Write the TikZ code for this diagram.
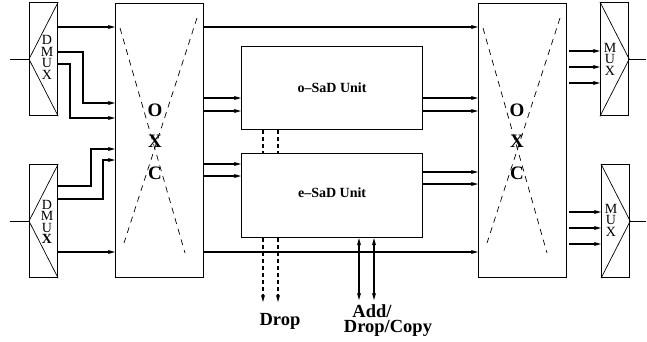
\documentclass[tikz,border=0pt]{standalone}
\usepackage{fontspec}
\setmainfont{Liberation Serif}
\usetikzlibrary{arrows.meta}

\begin{document}
\begin{tikzpicture}[x=1pt, y=-1pt,
    line width=1.2pt,
    blk/.style={
        draw,
        inner sep=0pt,
        anchor=north west
    },
    oxc/.style={blk, minimum width=88pt, minimum height=274pt},
    mux/.style={blk, minimum width=28pt, minimum height=113pt},
    sad/.style={blk, minimum width=181pt, minimum height=83pt,
        font=\fontsize{14}{16}\selectfont\bfseries},
    muxtxt/.style={align=center, inner sep=0pt, font=\fontsize{14}{11.5}\selectfont},
    oxctxt/.style={align=center, inner sep=0pt, font=\fontsize{19}{31.5}\selectfont\bfseries},
    lbl/.style={anchor=base, inner sep=0pt, font=\fontsize{18.5}{20}\selectfont\bfseries},
    thinln/.style={line width=0.7pt},
    xdash/.style={line width=0.7pt, dash pattern=on 6pt off 5pt},
    sdash/.style={dash pattern=on 4pt off 3pt},
    >={Stealth[length=7pt,width=4pt,inset=1.5pt]}
]
\useasboundingbox (0,0) rectangle (647,341);

% blocks
\node[mux] (dmuxA) at (29,2) {};
\node[mux] (dmuxB) at (29,164) {};
\node[oxc] (oxcL) at (115,3) {};
\node[sad] (osad) at (241,46) {o--SaD Unit};
\node[sad, minimum height=84pt] (esad) at (241,153) {\raisebox{6pt}{e--SaD Unit}};
\node[oxc] (oxcR) at (478,3) {};
\node[mux] (muxA) at (600,2) {};
\node[mux] (muxB) at (601,164) {};

% mux triangles and letters
\draw[thinln] (dmuxA.north east) -- (dmuxA.west) -- (dmuxA.south east);
\draw[thinln] (dmuxB.north east) -- (dmuxB.west) -- (dmuxB.south east);
\draw[thinln] (muxA.north west) -- (muxA.east) -- (muxA.south west);
\draw[thinln] (muxB.north west) -- (muxB.east) -- (muxB.south west);
\node[muxtxt] (dmuxAtxt) at (47,57.5) {D\\M\\U\\X};
\node[muxtxt] (dmuxBtxt) at (47,222) {D\\M\\U\\\textbf{X}};
\node[muxtxt] (muxAtxt) at (610,59) {M\\U\\X};
\node[muxtxt] (muxBtxt) at (611,220) {M\\U\\X};

% cross connects
\draw[xdash] (120,28) -- (185,253);
\draw[xdash] (197,18) -- (124,243);
\draw[xdash] (483,28) -- (547,253);
\draw[xdash] (560,18) -- (487,243);
\node[oxctxt] (oxcLtxt) at (155,141.5) {O\\X\\C};
\node[oxctxt] (oxcRtxt) at (517,141.5) {O\\X\\C};

% line ends
\coordinate (inA) at (dmuxA.west -| 10,0);
\coordinate (inB) at (dmuxB.west -| 10,0);
\coordinate (outA) at (muxA.east -| 646,0);
\coordinate (outB) at (muxB.east -| 646,0);
\draw (inA) -- (dmuxA.west);
\draw (inB) -- (dmuxB.west);
\draw (muxA.east) -- (outA);
\draw (muxB.east) -- (outB);

% demux to OXC
\draw[->] (dmuxA.east |- 0,27) -- (oxcL.west |- 0,27);
\draw[->] (dmuxA.east |- 0,52) -| (83,103) -- (oxcL.west |- 0,103);
\draw[->] (dmuxA.east |- 0,64) -| (70,118) -- (oxcL.west |- 0,118);
\draw[->] (dmuxB.east |- 0,186) -| (91,149) -- (oxcL.west |- 0,149);
\draw[->] (dmuxB.east |- 0,199) -| (103,160) -- (oxcL.west |- 0,160);
\draw[->] (dmuxB.east |- 0,252) -- (oxcL.west |- 0,252);

% OXC to OXC and units
\draw[->] (oxcL.east |- 0,27) -- (oxcR.west |- 0,27);
\draw[->] (oxcL.east |- 0,252) -- (oxcR.west |- 0,252);
\draw[->] (oxcL.east |- 0,98) -- (osad.west |- 0,98);
\draw[->] (oxcL.east |- 0,111) -- (osad.west |- 0,111);
\draw[->] (oxcL.east |- 0,164) -- (esad.west |- 0,164);
\draw[->] (oxcL.east |- 0,176) -- (esad.west |- 0,176);
\draw[->] (osad.east |- 0,98) -- (oxcR.west |- 0,98);
\draw[->] (osad.east |- 0,111) -- (oxcR.west |- 0,111);
\draw[->] (esad.east |- 0,172) -- (oxcR.west |- 0,172);
\draw[->] (esad.east |- 0,184) -- (oxcR.west |- 0,184);

% OXC to mux
\draw[->, shorten <=2pt] (oxcR.east |- 0,51) -- (muxA.west |- 0,51);
\draw[->, shorten <=2pt] (oxcR.east |- 0,67) -- (muxA.west |- 0,67);
\draw[->, shorten <=2pt] (oxcR.east |- 0,83) -- (muxA.west |- 0,83);
\draw[->, shorten <=2pt] (oxcR.east |- 0,212) -- (muxB.west |- 0,212);
\draw[->, shorten <=2pt] (oxcR.east |- 0,228) -- (muxB.west |- 0,228);
\draw[->, shorten <=2pt] (oxcR.east |- 0,244) -- (muxB.west |- 0,244);

% between units, drop and add
\draw[sdash] (osad.south -| 263,0) -- (esad.north -| 263,0);
\draw[sdash] (osad.south -| 278,0) -- (esad.north -| 278,0);
\coordinate (dropA) at (263,302);
\coordinate (dropB) at (278,302);
\coordinate (addA) at (359,300);
\coordinate (addB) at (374,300);
\draw[sdash, ->] (esad.south -| dropA) -- (dropA);
\draw[sdash, ->] (esad.south -| dropB) -- (dropB);
\draw[<->] (esad.south -| addA) -- (addA);
\draw[<->] (esad.south -| addB) -- (addB);
\node[lbl] (droplbl) at (280,325) {Drop};
\node[lbl] (addlbl) at (372,317) {Add/};
\node[lbl] (copylbl) at (388,332.5) {Drop/Copy};
\end{tikzpicture}
\end{document}
